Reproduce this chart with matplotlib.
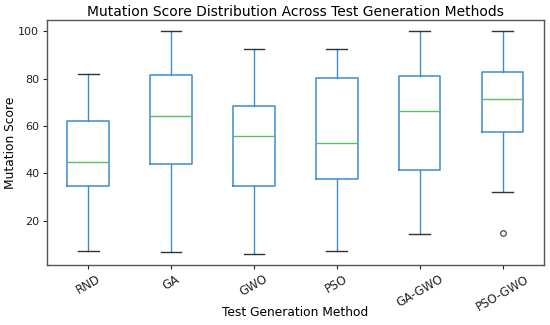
import matplotlib
matplotlib.use("Agg")
import matplotlib.pyplot as plt

methods = ["RND", "GA", "GWO", "PSO", "GA-GWO", "PSO-GWO"]
whisker_low = [7.2, 6.6, 6.0, 7.2, 14.3, 31.9]
q1 = [34.5, 43.8, 34.8, 37.4, 41.3, 57.4]
median = [44.8, 64.3, 55.6, 53.0, 66.3, 71.4]
q3 = [62.0, 81.7, 68.3, 80.4, 81.1, 82.9]
whisker_high = [81.9, 100.0, 92.4, 92.4, 100.0, 100.0]
outliers = [[], [], [], [], [], [14.6]]

stats = []
for i, m in enumerate(methods):
    stats.append(dict(label=m, whislo=whisker_low[i], q1=q1[i], med=median[i],
                      q3=q3[i], whishi=whisker_high[i], fliers=outliers[i]))

box_c = "#3d8ccc"
fig, ax = plt.subplots(figsize=(5.5, 3.25), dpi=100)
ax.bxp(stats, widths=0.5,
       boxprops=dict(color=box_c, linewidth=1.1), whiskerprops=dict(color=box_c, linewidth=1.0),
       capprops=dict(color="#333333", linewidth=1.0), medianprops=dict(color="#5cbf5c", linewidth=1.0),
       flierprops=dict(marker="o", markerfacecolor="none", markeredgecolor="#333333",
                       markersize=4, markeredgewidth=0.8))
ax.set_title("Mutation Score Distribution Across Test Generation Methods", fontsize=10, pad=3)
ax.set_xlabel("Test Generation Method", fontsize=8.8)
ax.set_ylabel("Mutation Score", fontsize=8.8)
ax.set_yticks([20, 40, 60, 80, 100])
plt.setp(ax.get_xticklabels(), rotation=30)
ax.tick_params(axis="x", labelsize=8.5, colors="#222222", width=0.8, length=3, pad=2.5)
ax.tick_params(axis="y", labelsize=8.0, colors="#222222", width=0.8, length=3, pad=2.5)
for s in ax.spines.values():
    s.set_color("#555555")
    s.set_linewidth(1.0)
ax.yaxis.set_label_coords(-0.06, 0.5)
ax.xaxis.set_label_coords(0.5, -0.17)
fig.subplots_adjust(left=0.085, right=0.989, top=0.938, bottom=0.185)
fig.savefig("out.png", dpi=100)
